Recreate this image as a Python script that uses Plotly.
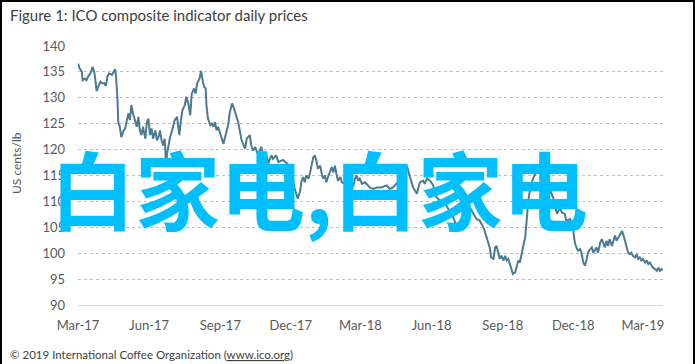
import plotly.graph_objects as go

# ---------------- data ----------------
dates = [
    "2017-03-01", "2017-03-03", "2017-03-06", "2017-03-07", "2017-03-10", "2017-03-12", "2017-03-14",
    "2017-03-17", "2017-03-20", "2017-03-22", "2017-03-24", "2017-03-25", "2017-03-27", "2017-03-30",
    "2017-04-01", "2017-04-04", "2017-04-06", "2017-04-08", "2017-04-10", "2017-04-14", "2017-04-16",
    "2017-04-18", "2017-04-19", "2017-04-21", "2017-04-22", "2017-04-24", "2017-04-26", "2017-04-29",
    "2017-05-01", "2017-05-03", "2017-05-05", "2017-05-07", "2017-05-09", "2017-05-11", "2017-05-14",
    "2017-05-16", "2017-05-18", "2017-05-20", "2017-05-22", "2017-05-24", "2017-05-27", "2017-05-29",
    "2017-05-31", "2017-06-02", "2017-06-04", "2017-06-06", "2017-06-09", "2017-06-11", "2017-06-13",
    "2017-06-15", "2017-06-17", "2017-06-19", "2017-06-21", "2017-06-23", "2017-06-24", "2017-06-26",
    "2017-06-28", "2017-06-30", "2017-07-02", "2017-07-04", "2017-07-07", "2017-07-08", "2017-07-10",
    "2017-07-12", "2017-07-14", "2017-07-17", "2017-07-19", "2017-07-22", "2017-07-24", "2017-07-26",
    "2017-07-29", "2017-07-31", "2017-08-02", "2017-08-05", "2017-08-07", "2017-08-09", "2017-08-11",
    "2017-08-13", "2017-08-14", "2017-08-16", "2017-08-19", "2017-08-21", "2017-08-23", "2017-08-25",
    "2017-08-27", "2017-08-29", "2017-09-01", "2017-09-03", "2017-09-05", "2017-09-07", "2017-09-09",
    "2017-09-11", "2017-09-13", "2017-09-16", "2017-09-18", "2017-09-20", "2017-09-22", "2017-09-24",
    "2017-09-26", "2017-09-28", "2017-10-01", "2017-10-03", "2017-10-05", "2017-10-07", "2017-10-09",
    "2017-10-11", "2017-10-13", "2017-10-16", "2017-10-19", "2017-10-22", "2017-10-24", "2017-10-26",
    "2017-10-29", "2017-10-31", "2017-11-02", "2017-11-04", "2017-11-06", "2017-11-08", "2017-11-12",
    "2017-11-15", "2017-11-21", "2017-11-27", "2017-12-02", "2017-12-06", "2017-12-10", "2017-12-13",
    "2017-12-15", "2017-12-17", "2017-12-19", "2017-12-21", "2017-12-24", "2017-12-26", "2017-12-28",
    "2017-12-30", "2018-01-01", "2018-01-03", "2018-01-05", "2018-01-08", "2018-01-10", "2018-01-12",
    "2018-01-14", "2018-01-16", "2018-01-18", "2018-01-21", "2018-01-23", "2018-01-25", "2018-01-27",
    "2018-01-29", "2018-01-31", "2018-02-03", "2018-02-05", "2018-02-09", "2018-02-14", "2018-02-20",
    "2018-02-22", "2018-02-24", "2018-02-26", "2018-02-28", "2018-03-03", "2018-03-07", "2018-03-11",
    "2018-03-13", "2018-03-18", "2018-03-22", "2018-03-28", "2018-04-04", "2018-04-08", "2018-04-12",
    "2018-04-17", "2018-04-24", "2018-04-30", "2018-05-02", "2018-05-04", "2018-05-08", "2018-05-13",
    "2018-05-15", "2018-05-17", "2018-05-21", "2018-05-23", "2018-05-26", "2018-05-30", "2018-06-03",
    "2018-06-07", "2018-06-12", "2018-06-16", "2018-06-20", "2018-06-25", "2018-06-29", "2018-07-03",
    "2018-07-08", "2018-07-12", "2018-07-16", "2018-07-20", "2018-07-25", "2018-07-29", "2018-08-02",
    "2018-08-07", "2018-08-11", "2018-08-15", "2018-08-17", "2018-08-20", "2018-08-22", "2018-08-24",
    "2018-08-26", "2018-08-28", "2018-08-30", "2018-09-02", "2018-09-04", "2018-09-06", "2018-09-08",
    "2018-09-10", "2018-09-12", "2018-09-14", "2018-09-17", "2018-09-19", "2018-09-21", "2018-09-23",
    "2018-09-25", "2018-09-27", "2018-09-30", "2018-10-02", "2018-10-04", "2018-10-06", "2018-10-10",
    "2018-10-13", "2018-10-16", "2018-10-22", "2018-10-27", "2018-11-01", "2018-11-05", "2018-11-10",
    "2018-11-12", "2018-11-14", "2018-11-16", "2018-11-20", "2018-11-22", "2018-11-27", "2018-12-01",
    "2018-12-03", "2018-12-05", "2018-12-07", "2018-12-10", "2018-12-12", "2018-12-14", "2018-12-16",
    "2018-12-18", "2018-12-20", "2018-12-23", "2018-12-25", "2018-12-27", "2018-12-29", "2018-12-31",
    "2019-01-02", "2019-01-05", "2019-01-07", "2019-01-09", "2019-01-11", "2019-01-13", "2019-01-15",
    "2019-01-17", "2019-01-20", "2019-01-22", "2019-01-24", "2019-01-26", "2019-01-28", "2019-01-30",
    "2019-02-02", "2019-02-04", "2019-02-06", "2019-02-08", "2019-02-10", "2019-02-12", "2019-02-14",
    "2019-02-16", "2019-02-19", "2019-02-21", "2019-02-23", "2019-02-25", "2019-02-27", "2019-03-01",
    "2019-03-04", "2019-03-06", "2019-03-08", "2019-03-10", "2019-03-12", "2019-03-14", "2019-03-17",
    "2019-03-19", "2019-03-21", "2019-03-23", "2019-03-25", "2019-03-27",
]

prices = [
    136.6, 135.7, 135.0, 133.4, 133.7, 133.4, 134.1,
    134.7, 136.0, 135.0, 132.8, 131.3, 132.1, 133.1,
    132.8, 132.8, 132.3, 134.1, 134.7, 134.4, 135.0,
    135.5, 134.4, 129.9, 125.3, 124.4, 122.4, 123.7,
    124.1, 126.0, 127.0, 125.7, 128.6, 127.0, 125.7,
    124.4, 126.3, 123.7, 122.8, 124.4, 122.1, 125.3,
    126.0, 122.8, 124.1, 122.1, 123.7, 121.8, 122.4,
    123.7, 121.8, 120.8, 122.1, 116.6, 119.2, 121.1,
    122.4, 123.4, 124.4, 125.7, 126.3, 125.0, 122.8,
    125.7, 127.6, 128.6, 130.2, 128.6, 126.6, 130.8,
    131.8, 130.8, 132.8, 133.7, 135.2, 133.4, 132.1,
    131.8, 128.6, 126.0, 124.7, 125.0, 124.4, 125.3,
    123.7, 124.4, 122.8, 122.1, 121.1, 122.4, 123.4,
    124.7, 127.0, 128.9, 128.2, 127.3, 126.3, 125.3,
    123.7, 122.1, 120.8, 120.2, 122.1, 122.4, 122.8,
    120.8, 119.8, 120.5, 119.2, 119.8, 120.5, 119.2,
    119.5, 118.5, 117.3, 118.2, 118.9, 118.2, 118.9,
    117.6, 118.0, 117.2, 115.5, 112.5, 110.5, 112.0,
    114.0, 114.7, 113.7, 115.0, 114.4, 115.6, 117.3,
    118.5, 118.9, 117.9, 116.3, 116.9, 115.3, 114.4,
    115.0, 113.7, 114.7, 116.0, 116.6, 115.6, 116.9,
    115.3, 114.0, 114.7, 113.7, 113.3, 113.8, 113.1,
    114.4, 115.0, 114.0, 114.4, 113.4, 113.7, 113.1,
    112.7, 112.4, 112.7, 112.7, 113.1, 112.4, 112.7,
    113.5, 114.5, 116.9, 116.0, 114.7, 112.7, 111.5,
    112.7, 113.7, 114.0, 113.4, 114.4, 114.0, 113.1,
    110.8, 110.2, 109.5, 109.2, 107.9, 106.9, 105.3,
    106.0, 106.3, 107.3, 108.9, 107.6, 106.6, 106.3,
    105.0, 103.1, 101.1, 99.2, 98.9, 101.1, 101.4,
    100.1, 98.9, 99.5, 98.6, 99.5, 98.6, 98.9,
    97.9, 96.9, 96.0, 96.3, 97.6, 98.6, 98.2,
    100.1, 101.1, 103.1, 106.9, 110.2, 112.1, 114.4,
    115.3, 117.0, 115.5, 114.0, 112.1, 110.8, 107.6,
    108.2, 108.9, 107.9, 107.6, 106.3, 106.6, 104.3,
    102.1, 101.1, 100.5, 100.8, 99.8, 98.2, 97.6,
    98.6, 100.1, 100.8, 101.1, 100.1, 100.5, 101.1,
    100.1, 102.1, 102.7, 101.8, 101.1, 102.4, 101.4,
    102.7, 101.4, 102.4, 103.4, 102.4, 103.0, 103.7,
    104.3, 103.4, 102.1, 101.1, 100.1, 99.8, 100.1,
    99.5, 99.2, 99.8, 98.9, 99.2, 98.6, 98.9,
    98.2, 98.6, 97.9, 98.2, 97.6, 97.2, 96.9,
    96.6, 97.2, 96.6, 96.9, 96.8,
]

x_tick_dates = ["2017-03-01", "2017-06-01", "2017-09-01", "2017-12-01", "2018-03-01",
                "2018-06-01", "2018-09-01", "2018-12-01", "2019-03-01"]
x_tick_labels = ["Mar-17", "Jun-17", "Sep-17", "Dec-17", "Mar-18",
                 "Jun-18", "Sep-18", "Dec-18", "Mar-19"]
y_ticks = [90, 95, 100, 105, 110, 115, 120, 125, 130, 135, 140]

title_text = "Figure 1: ICO composite indicator daily prices"
y_title = "US cents/lb"
source_text = "© 2019 International Coffee Organization (<u>www.ico.org</u>)"
overlay_text = "白家电,白家电"

# ---------------- layout geometry ----------------
W, H = 695, 364
ML, MR, MT, MB = 78, 32, 46, 59
PW, PH = W - ML - MR, H - MT - MB


def px(xp):
    return (xp - ML) / PW


def py(yp):
    return (H - MB - yp) / PH


FONT = "Lato, 'Open Sans', sans-serif"

fig = go.Figure()
fig.add_trace(go.Scatter(
    x=dates, y=prices, mode="lines",
    line=dict(color="#4B7B91", width=2),
    hoverinfo="skip",
))

fig.update_layout(
    width=W, height=H,
    margin=dict(l=ML, r=MR, t=MT, b=MB),
    paper_bgcolor="white", plot_bgcolor="white",
    showlegend=False,
    font=dict(family=FONT, color="#595959"),
    xaxis=dict(
        type="date",
        range=["2017-03-01", "2019-03-27"],
        tickvals=x_tick_dates, ticktext=x_tick_labels,
        showgrid=False, zeroline=False,
        showline=True, linecolor="#D9D9D9", linewidth=1,
        ticks="", ticklabelstandoff=8,
        tickfont=dict(family=FONT, size=13, color="#595959"),
    ),
    yaxis=dict(
        range=[90, 140],
        tickvals=y_ticks,
        showgrid=True, gridcolor="#BFBFBF", griddash="dot", gridwidth=1,
        zeroline=False, showline=False,
        ticks="", ticklabelstandoff=12,
        tickfont=dict(family=FONT, size=13, color="#595959"),
    ),
)

annotations = [
    dict(text=title_text, xref="paper", yref="paper", x=px(8), y=py(15),
         xanchor="left", yanchor="middle", showarrow=False,
         font=dict(family=FONT, size=15, color="#404040")),
    dict(text=y_title, xref="paper", yref="paper", x=px(16), y=py(163),
         xanchor="center", yanchor="middle", textangle=-90, showarrow=False,
         font=dict(family=FONT, size=12, color="#595959")),
    dict(text=source_text, xref="paper", yref="paper", x=px(8), y=py(354),
         xanchor="left", yanchor="middle", showarrow=False,
         font=dict(family=FONT, size=11.5, color="#404040")),
    dict(text=overlay_text, xref="paper", yref="paper", x=px(319), y=py(186),
         xanchor="center", yanchor="middle", showarrow=False,
         font=dict(family="'Noto Sans CJK SC', sans-serif", size=85,
                   color="#00BFFF", weight="bold")),
]
fig.update_layout(annotations=annotations)

# outer frame (left, top, right)
frame = dict(type="line", xref="paper", yref="paper", line=dict(color="black", width=2), layer="above")
fig.add_shape(**frame, x0=px(1), x1=px(1), y0=py(0), y1=py(H))
fig.add_shape(**frame, x0=px(0), x1=px(W), y0=py(1), y1=py(1))
fig.add_shape(**frame, x0=px(694), x1=px(694), y0=py(0), y1=py(H))

fig.write_html(
    "out.html",
    config={"displayModeBar": False, "staticPlot": True},
    post_script="document.body.style.margin='0';document.body.style.padding='0';",
)
